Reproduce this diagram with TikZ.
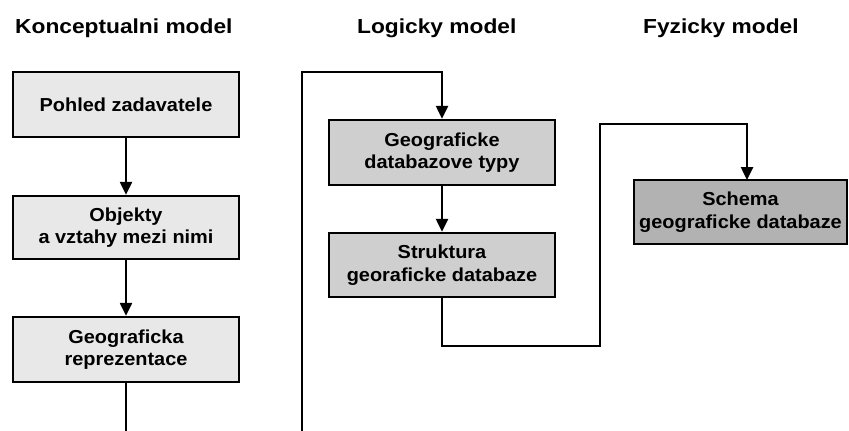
\documentclass[tikz,border=0pt]{standalone}
\usepackage{fontspec}
\setmainfont{Liberation Sans}
\newfontfamily\titlefont[FakeStretch=1.12]{Liberation Sans}
\newfontfamily\boxfont[FakeStretch=1.06]{Liberation Sans}
\usetikzlibrary{arrows.meta}
\begin{document}
\begin{tikzpicture}[x=1pt,y=-1pt,
  box/.style={draw=black, line width=2.5pt, minimum width=226pt, minimum height=65pt,
    inner sep=0pt, align=center, font=\boxfont\bfseries\fontsize{18.8}{22.5}\selectfont},
  light/.style={box, fill=gray!18},
  mid/.style={box, fill=gray!38},
  dark/.style={box, fill=gray!60},
  title/.style={anchor=base west, inner sep=0pt, font=\titlefont\bfseries\fontsize{20.3}{24}\selectfont},
  conn/.style={line width=2.5pt},
  arr/.style={conn, -{Triangle[length=13pt,width=12pt]}}]
\useasboundingbox (0,0) rectangle (849,431);
\node[title] (t1) at (15,34) {Konceptualni model};
\node[title] (t2) at (357,34) {Logicky model};
\node[title] (t3) at (643,33) {Fyzicky model};

\node[light] (b1) at (126,104.5) {Pohled zadavatele};
\node[light, minimum height=63pt] (b2) at (126,227.5) {Objekty\\a vztahy mezi nimi};
\node[light] (b3) at (126,349.5) {Geograficka\\reprezentace};
\node[mid] (b4) at (442,152.5) {Geograficke\\databazove typy};
\node[mid, minimum height=64pt] (b5) at (442,265) {Struktura\\georaficke databaze};
\node[dark, minimum width=213pt, minimum height=64pt] (b6) at (740.5,212) {Schema\\geograficke databaze};

\coordinate (e1) at (126,432);
\coordinate (e2) at (302,432);
\coordinate (k1) at (302,72);
\coordinate (k2) at (442,72);
\coordinate (m1) at (442,346);
\coordinate (m2) at (600,346);
\coordinate (m3) at (600,124);
\coordinate (m4) at (747,124);
\coordinate (m5) at (747,180);

\draw[arr] (b1) -- (b2);
\draw[arr] (b2) -- (b3);
\draw[conn] (b3) -- (e1);
\draw[arr] (e2) -- (k1) -- (k2) -- (b4);
\draw[arr] (b4) -- (b5);
\draw[arr] (b5) -- (m1) -- (m2) -- (m3) -- (m4) -- (m5);
\end{tikzpicture}
\end{document}
